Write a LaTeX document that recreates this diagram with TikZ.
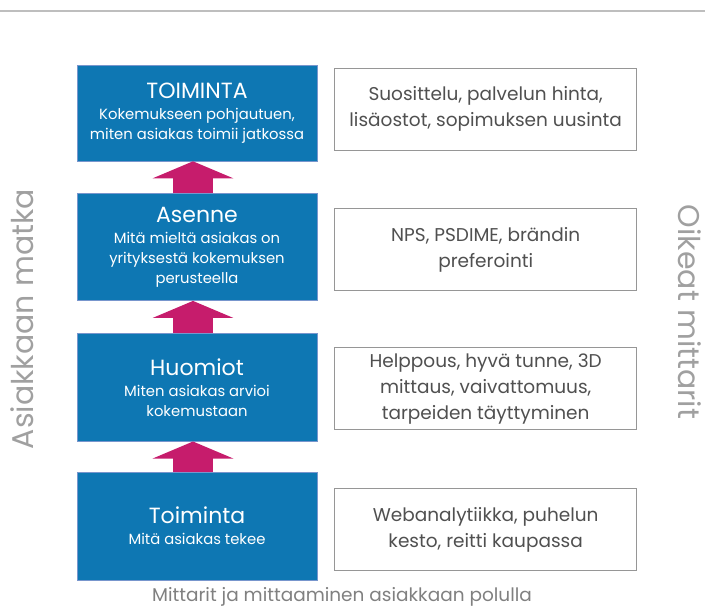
\documentclass[tikz,border=0pt]{standalone}
\usepackage{fontspec}
\setmainfont{Poppins}
\usetikzlibrary{positioning,arrows.meta}
\definecolor{polkublue}{RGB}{14,119,179}
\definecolor{polkuedge}{RGB}{120,150,205}
\definecolor{nuolipink}{RGB}{198,28,108}
\definecolor{tekstigray}{RGB}{80,80,80}
\definecolor{reunagray}{RGB}{150,150,150}
\definecolor{sivugray}{RGB}{160,160,160}
\definecolor{viivagray}{RGB}{190,190,190}
\newcommand{\vaiheotsikko}[1]{{\fontsize{22}{25}\selectfont #1}}
\tikzset{
vaihe/.style={fill=polkublue, draw=polkuedge, line width=0.6pt, text=white, minimum width=240pt, align=center, inner sep=0pt, font=\fontsize{14.8}{20}\selectfont}, % blue step boxes
mittari/.style={draw=reunagray, line width=0.8pt, fill=white, text=tekstigray, minimum width=302pt, minimum height=82pt, align=center, font=\fontsize{18.5}{26}\selectfont}, % metric boxes
ylos/.style={line width=40pt, nuolipink, -{Triangle[width=80pt,length=17pt]}}, % the pink arrows
sivu/.style={text=sivugray, font=\fontsize{30}{34}\selectfont},
}

\begin{document}
\begin{tikzpicture}[x=1pt,y=-1pt]
   \useasboundingbox (0,0) rectangle (705,608);
   \draw[viivagray, line width=1.5pt] (0,11) -- (705,11);
   % steps of the journey
   \node[vaihe, minimum height=96pt] (b_1) at (197,113) {\vaiheotsikko{TOIMINTA}\\[1pt] Kokemukseen pohjautuen,\\ miten asiakas toimii jatkossa};
   \node[vaihe, minimum height=107pt] (b_2) [below=32pt of b_1] {\vaiheotsikko{Asenne}\\[1pt] Mitä mieltä asiakas on\\ yrityksestä kokemuksen\\ perusteella};
   \node[vaihe, minimum height=108pt] (b_3) [below=32pt of b_2] {\vaiheotsikko{Huomiot}\\[1pt] Miten asiakas arvioi\\ kokemustaan};
   \node[vaihe, minimum height=108pt] (b_4) [below=30pt of b_3] {\vaiheotsikko{Toiminta}\\[1pt] Mitä asiakas tekee};
   % metrics
   \node[mittari] (m_1) [right=17pt of b_1, yshift=4pt] {Suosittelu, palvelun hinta,\\ lisäostot, sopimuksen uusinta};
   \node[mittari] (m_2) [right=17pt of b_2, yshift=-2.5pt] {NPS, PSDIME, brändin\\ preferointi};
   \node[mittari] (m_3) [right=17pt of b_3, yshift=-1.5pt] {Helppous, hyvä tunne, 3D\\ mittaus, vaivattomuus,\\ tarpeiden täyttyminen};
   \node[mittari] (m_4) [right=17pt of b_4, yshift=-4pt] {Webanalytiikka, puhelun\\ kesto, reitti kaupassa};
   \draw[ylos] ([xshift=-4pt]b_2.north) -- ([xshift=-4pt]b_1.south);
   \draw[ylos] ([xshift=-4pt]b_3.north) -- ([xshift=-4pt]b_2.south);
   \draw[ylos] ([xshift=-4pt]b_4.north) -- ([xshift=-4pt]b_3.south);
   % side labels and caption
   \node[sivu, rotate=90] (matka) at (22,319) {Asiakkaan matka};
   \node[sivu, rotate=-90] (mittarit) at (690,312) {Oikeat mittarit};
   \node[text=gray, font=\fontsize{18.5}{22}\selectfont] (otsikko) at (342,597) {Mittarit ja mittaaminen asiakkaan polulla};
\end{tikzpicture}
\end{document}
